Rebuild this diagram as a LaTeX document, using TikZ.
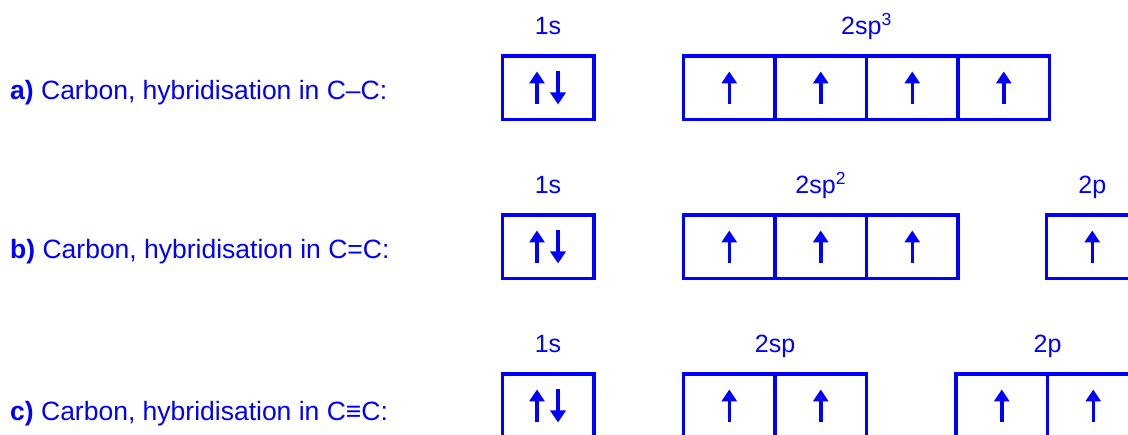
\documentclass[tikz,border=0pt]{standalone}
\usepackage{fontspec}
\setmainfont{Liberation Sans}
\usetikzlibrary{positioning, arrows.meta, calc}
\definecolor{orbblue}{HTML}{0000FF}
\tikzset{
  cell/.style={draw=orbblue, line width=3.5pt, minimum width=91.5pt,
               minimum height=63.5pt, inner sep=0pt, outer sep=0pt},
  spin/.style={orbblue, line width=3.5pt, -{Triangle[length=12pt,width=15pt]}},
  sublabel/.style={text=orbblue, font=\fontsize{25}{30}\selectfont,
                   inner sep=0pt, anchor=base},
  rowlabel/.style={text=orbblue, font=\fontsize{26.5}{32}\selectfont,
                   inner sep=0pt, anchor=base west}
}

\begin{document}
\begin{tikzpicture}[x=1pt, y=1pt]
    \useasboundingbox (0,0) rectangle (1128,435);
    \clip (0,0) rectangle (1128,435);

    % row a: sp3
    \node[rowlabel] (rowa) at (10,335.5) {\textbf{a)} Carbon, hybridisation in C–C:};
    \node[cell] (a1s) at (548,347) {};
    \node[cell] (asp1) at (729.25,347) {};
    \node[cell, right=0pt of asp1] (asp2) {};
    \node[cell, right=0pt of asp2] (asp3) {};
    \node[cell, right=0pt of asp3] (asp4) {};
    \node[sublabel] (la1s) at ($(a1s.north)+(0,21.5)$) {1s};
    \node[sublabel] (lasp) at ($(asp2.north east)+(0,21.5)$) {2sp\textsuperscript{3}};

    % row b: sp2
    \node[rowlabel] (rowb) at (10,176.5) {\textbf{b)} Carbon, hybridisation in C=C:};
    \node[cell] (b1s) at (548,188) {};
    \node[cell] (bsp1) at (729.25,188) {};
    \node[cell, right=0pt of bsp1] (bsp2) {};
    \node[cell, right=0pt of bsp2] (bsp3) {};
    \node[cell, right=88.5pt of bsp3] (bp1) {};
    \node[sublabel] (lb1s) at ($(b1s.north)+(0,21.5)$) {1s};
    \node[sublabel] (lbsp) at ($(bsp2.north)+(0,21.5)$) {2sp\textsuperscript{2}};
    \node[sublabel] (lbp) at ($(bp1.north)+(0,21.5)$) {2p};

    % row c: sp
    \node[rowlabel] (rowc) at (10,14) {\textbf{c)} Carbon, hybridisation in C≡C:};
    \node[cell] (c1s) at (548,29) {};
    \node[cell] (csp1) at (729.25,29) {};
    \node[cell, right=0pt of csp1] (csp2) {};
    \node[cell, right=89.5pt of csp2] (cp1) {};
    \node[cell, right=0pt of cp1] (cp2) {};
    \node[sublabel] (lc1s) at ($(c1s.north)+(0,21.5)$) {1s};
    \node[sublabel] (lcsp) at ($(csp1.north east)+(0,21.5)$) {2sp};
    \node[sublabel] (lcp) at ($(cp1.north east)+(0,21.5)$) {2p};

    % paired spins in 1s
    \draw[spin] ([xshift=-11pt,yshift=-16.5pt]a1s.center) -- ([xshift=-11pt,yshift=16.5pt]a1s.center);
    \draw[spin] ([xshift=10pt,yshift=16.5pt]a1s.center) -- ([xshift=10pt,yshift=-16.5pt]a1s.center);
    \draw[spin] ([xshift=-11pt,yshift=-16.5pt]b1s.center) -- ([xshift=-11pt,yshift=16.5pt]b1s.center);
    \draw[spin] ([xshift=10pt,yshift=16.5pt]b1s.center) -- ([xshift=10pt,yshift=-16.5pt]b1s.center);
    \draw[spin] ([xshift=-11pt,yshift=-16.5pt]c1s.center) -- ([xshift=-11pt,yshift=16.5pt]c1s.center);
    \draw[spin] ([xshift=10pt,yshift=16.5pt]c1s.center) -- ([xshift=10pt,yshift=-16.5pt]c1s.center);

    % single spins
    \draw[spin] ([yshift=-16.5pt]asp1.center) -- ([yshift=16.5pt]asp1.center);
    \draw[spin] ([yshift=-16.5pt]asp2.center) -- ([yshift=16.5pt]asp2.center);
    \draw[spin] ([yshift=-16.5pt]asp3.center) -- ([yshift=16.5pt]asp3.center);
    \draw[spin] ([yshift=-16.5pt]asp4.center) -- ([yshift=16.5pt]asp4.center);
    \draw[spin] ([yshift=-16.5pt]bsp1.center) -- ([yshift=16.5pt]bsp1.center);
    \draw[spin] ([yshift=-16.5pt]bsp2.center) -- ([yshift=16.5pt]bsp2.center);
    \draw[spin] ([yshift=-16.5pt]bsp3.center) -- ([yshift=16.5pt]bsp3.center);
    \draw[spin] ([yshift=-16.5pt]bp1.center) -- ([yshift=16.5pt]bp1.center);
    \draw[spin] ([yshift=-16.5pt]csp1.center) -- ([yshift=16.5pt]csp1.center);
    \draw[spin] ([yshift=-16.5pt]csp2.center) -- ([yshift=16.5pt]csp2.center);
    \draw[spin] ([yshift=-16.5pt]cp1.center) -- ([yshift=16.5pt]cp1.center);
    \draw[spin] ([yshift=-16.5pt]cp2.center) -- ([yshift=16.5pt]cp2.center);
\end{tikzpicture}
\end{document}
